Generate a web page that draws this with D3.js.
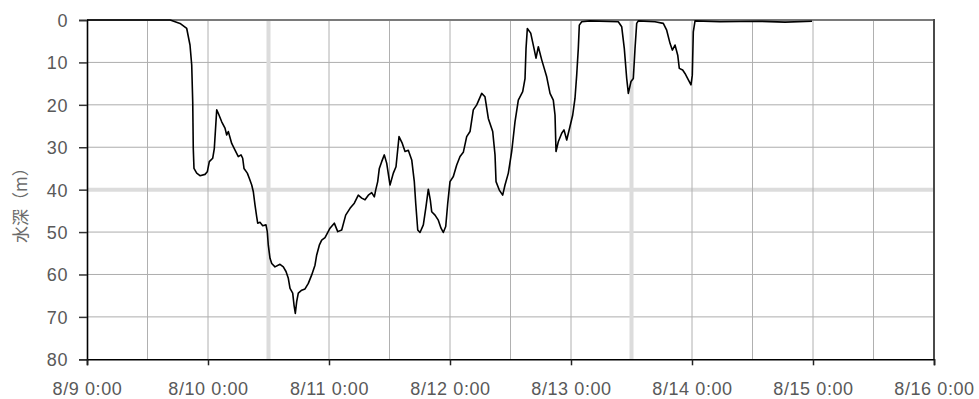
<!DOCTYPE html>
<html>
<head>
<meta charset="utf-8">
<script src="https://cdn.jsdelivr.net/npm/d3@7"></script>
<style>
  html, body { margin: 0; padding: 0; background: #fff; }
  svg { display: block; }
  .tick text { font-family: "Liberation Sans", Arial, sans-serif; font-size: 18px; fill: #595959; letter-spacing: 0.6px; }
</style>
</head>
<body>
<svg id="chart" width="979" height="399"></svg>
<script>
// Observation window start (hour 0 = 8/9 0:00)
const startDate = new Date(2014, 7, 9, 0, 0);
const endDate = new Date(2014, 7, 16, 0, 0);

// Elapsed hours since start
const hoursFromStart = [
  0, 16.5, 18.45, 19.78, 20.43, 20.77, 20.97, 21.08, 21.22, 21.76,
  22.41, 23.41, 23.86, 24.26, 24.93, 25.25, 25.73, 26.04, 26.72, 27.37,
  27.71, 28.03, 28.70, 29.36, 30.01, 30.55, 30.88, 31.14, 31.80, 32.19,
  32.67, 32.99, 33.32, 33.66, 33.86, 34.31, 34.85, 35.50, 35.76, 35.96,
  36.30, 36.64, 37.29, 38.28, 38.94, 39.47, 39.93, 40.27, 40.80, 41.06,
  41.32, 41.59, 41.91, 42.59, 43.24, 43.90, 44.57, 45.22, 45.56, 46.08,
  46.55, 47.21, 48.20, 49.05, 49.73, 50.52, 51.31, 52.17, 53.02, 53.81,
  54.49, 55.14, 55.80, 56.47, 56.99, 57.26, 57.66, 57.98, 58.45, 58.97,
  59.45, 60.10, 60.76, 61.29, 61.89, 62.54, 63.08, 63.73, 64.41, 64.92,
  65.20, 65.60, 66.05, 66.71, 67.24, 67.70, 68.09, 68.37, 69.03, 69.68,
  70.22, 70.67, 71.15, 71.55, 72.00, 72.66, 73.33, 73.99, 74.64, 75.31,
  75.97, 76.62, 77.30, 78.29, 78.94, 79.60, 80.47, 80.93, 81.13, 81.78,
  82.45, 82.91, 83.57, 84.24, 84.89, 85.55, 86.42, 86.88, 87.08, 87.34,
  88.01, 88.66, 89.06, 89.52, 90.19, 91.18, 91.84, 92.49, 92.83, 93.03,
  93.48, 94.16, 94.61, 95.15, 95.80, 96.34, 96.79, 97.13, 97.45, 97.65,
  98.12, 99.77, 105.38, 106.06, 106.57, 107.05, 107.37, 107.90, 108.36, 108.70,
  109.03, 109.35, 112.66, 114.31, 114.98, 115.64, 116.10, 116.63, 117.17, 117.48,
  118.15, 118.61, 119.15, 119.80, 120.06, 120.26, 120.60, 125.56, 133.49, 138.45,
  143.81
];

// Water depth (m)
const depthM = [
  0, 0, 0.8, 2, 5.9, 10.6, 19.3, 30.3, 35, 36.1,
  36.7, 36.4, 35.8, 33.4, 32.6, 30.3, 21.2, 22, 24, 25.5,
  27.1, 26.3, 29.1, 30.7, 32.2, 31.8, 32.6, 35, 36.1, 37.3,
  38.9, 40.5, 43.6, 46.4, 47.9, 47.7, 48.5, 48.3, 49.9, 53.1,
  56.2, 57.4, 58.2, 57.6, 58.2, 59.3, 60.9, 63.3, 64.4, 67.2,
  69.2, 66.4, 64.4, 63.7, 63.4, 62.1, 60.1, 57.8, 55.4, 53.1,
  51.9, 51.3, 49.1, 47.9, 49.9, 49.5, 46, 44.4, 43.2, 41.3,
  42.0, 42.4, 41.3, 40.7, 41.7, 40.1, 38.1, 35, 33.4, 31.8,
  33.8, 38.9, 36.1, 34.6, 27.5, 29.1, 31, 30.7, 33, 38.1,
  43.2, 49.5, 50.1, 48.3, 44, 39.9, 42.4, 45.2, 46, 47.2,
  49.1, 50.1, 48.7, 43.2, 38.1, 36.9, 34.2, 32.2, 31.2, 27.5,
  26.3, 21.2, 20, 17.3, 18.1, 23.2, 26.3, 31.8, 38.1, 40.1,
  41.3, 38.9, 36.1, 31, 24, 18.9, 16.9, 13.8, 6.7, 2,
  3.1, 6.7, 9, 6.3, 9.4, 13.4, 17.3, 18.9, 22.4, 31,
  28.7, 26.7, 25.9, 28.3, 25.1, 22.4, 18.5, 13, 6.7, 1.2,
  0.4, 0.2, 0.4, 1.6, 6.7, 13.8, 17.3, 14.5, 13.8, 6.7,
  0.8, 0.2, 0.4, 0.8, 2.4, 5.5, 7.1, 5.9, 8.3, 11.4,
  11.8, 12.6, 13.8, 15.3, 13, 2.8, 0.2, 0.4, 0.3, 0.5,
  0.3
];

const yTicks = [0, 10, 20, 30, 40, 50, 60, 70, 80];
const yTitle = "水深（m）";

const HOUR = 3600 * 1000;
const points = hoursFromStart.map((h, i) => ({ t: new Date(+startDate + h * HOUR), d: depthM[i] }));
const dayTicks = d3.timeDay.range(startDate, d3.timeDay.offset(endDate, 1));

const svg = d3.select("#chart");
const plotL = 87, plotR = 934, plotT = 20, plotB = 359.3;

const x = d3.scaleTime().domain([startDate, endDate]).range([plotL, plotR]);
const y = d3.scaleLinear().domain([0, 80]).range([plotT, plotB]);

const grid = svg.append("g");

// horizontal grid lines
grid.selectAll("line.h").data(yTicks.filter(v => v > 0 && v < 80)).join("line")
  .attr("x1", plotL).attr("x2", plotR)
  .attr("y1", d => y(d)).attr("y2", d => y(d))
  .attr("stroke", d => d === 40 ? "#dcdcdc" : "#adadad")
  .attr("stroke-width", d => d === 40 ? 4 : 1);

// vertical grid lines (every 12 hours)
const vLines = d3.timeHour.every(12).range(d3.timeHour.offset(startDate, 12), endDate);
const isWide = d => { const k = Math.round((d - startDate) / HOUR); return k === 36 || k === 108; };
grid.selectAll("line.v").data(vLines).join("line")
  .attr("x1", d => x(d)).attr("x2", d => x(d))
  .attr("y1", plotT).attr("y2", plotB)
  .attr("stroke", d => isWide(d) ? "#dcdcdc" : "#b0b0b0")
  .attr("stroke-width", d => isWide(d) ? 4 : 1);

// frame: top and right border
svg.append("line").attr("x1", plotL).attr("x2", plotR).attr("y1", plotT).attr("y2", plotT)
  .attr("stroke", "#7a7a7a").attr("stroke-width", 2);
svg.append("line").attr("x1", plotR).attr("x2", plotR).attr("y1", plotT - 1).attr("y2", plotB)
  .attr("stroke", "#4a4a4a").attr("stroke-width", 2);

// data line
const line = d3.line().x(p => x(p.t)).y(p => y(p.d));
svg.append("path").datum(points)
  .attr("d", line)
  .attr("fill", "none")
  .attr("stroke", "#000")
  .attr("stroke-width", 1.6)
  .attr("stroke-linejoin", "round");

// y axis
const yAxis = svg.append("g").attr("transform", `translate(${plotL},0)`)
  .call(d3.axisLeft(y).tickValues(yTicks).tickSize(8).tickPadding(11).tickFormat(d3.format("d")));
yAxis.select(".domain").attr("stroke", "#000").attr("stroke-width", 1.6);
yAxis.selectAll(".tick line").attr("stroke", "#333").attr("stroke-width", 1.5);
yAxis.selectAll(".tick text").attr("dy", "0.36em");

// x axis
const fmt = d3.timeFormat("%-m/%-d %-H:%M");
const xAxis = svg.append("g").attr("transform", `translate(0,${plotB})`)
  .call(d3.axisBottom(x).tickValues(dayTicks).tickSize(6).tickPadding(0).tickFormat(fmt));
xAxis.select(".domain").attr("stroke", "#000").attr("stroke-width", 1.6);
xAxis.selectAll(".tick line").attr("stroke", "#222").attr("stroke-width", 1.5);
xAxis.selectAll(".tick text").attr("y", 35.5).attr("dy", 0);

// y axis title
svg.append("text")
  .attr("transform", `translate(27,201) rotate(-90)`)
  .attr("text-anchor", "middle")
  .attr("font-family", "'Noto Sans CJK JP', sans-serif")
  .attr("font-size", 17)
  .attr("fill", "#6b6b6b")
  .text(yTitle);
</script>
</body>
</html>
